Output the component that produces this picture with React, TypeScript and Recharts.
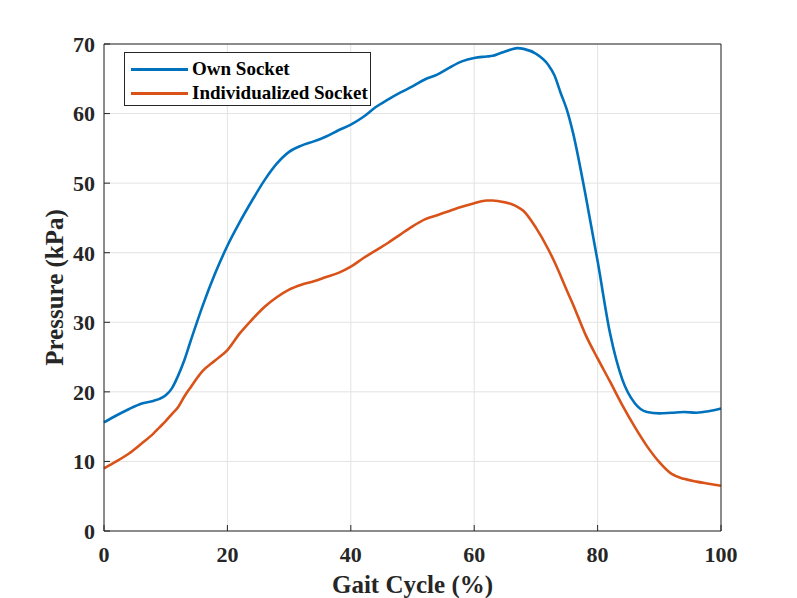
import React from 'react';
import { LineChart, Line, XAxis, YAxis, CartesianGrid, Legend } from 'recharts';

const gaitCycle = [0, 2, 4, 6, 8, 9, 10, 11, 12, 13, 14, 16, 18, 20, 22, 24, 26, 28, 30, 32, 34, 36, 38, 40, 42, 44, 46, 48, 50, 52, 54, 56, 58, 60, 62, 63, 64, 66, 67, 68, 70, 72, 73, 74, 75, 76, 78, 80, 82, 84, 86, 88, 90, 92, 94, 96, 98, 100];
const ownSocket = [15.6, 16.6, 17.5, 18.3, 18.7, 19.0, 19.5, 20.5, 22.3, 24.5, 27.2, 32.4, 37.0, 41.0, 44.4, 47.5, 50.4, 52.8, 54.5, 55.4, 56.0, 56.7, 57.6, 58.4, 59.5, 60.9, 62.0, 63.0, 63.9, 64.9, 65.6, 66.6, 67.5, 68.0, 68.2, 68.3, 68.6, 69.2, 69.4, 69.3, 68.6, 67.0, 65.5, 63.0, 60.6, 57.3, 48.5, 38.8, 28.5, 21.8, 18.4, 17.1, 16.9, 17.0, 17.1, 17.0, 17.2, 17.6];
const individualizedSocket = [9.0, 10.0, 11.1, 12.5, 14.0, 14.9, 15.8, 16.8, 17.8, 19.3, 20.6, 23.0, 24.5, 26.0, 28.4, 30.4, 32.2, 33.6, 34.7, 35.4, 35.9, 36.5, 37.1, 38.0, 39.2, 40.3, 41.4, 42.6, 43.8, 44.8, 45.4, 46.0, 46.6, 47.1, 47.5, 47.5, 47.4, 47.0, 46.6, 46.0, 43.6, 40.5, 38.7, 36.7, 34.6, 32.6, 28.3, 24.8, 21.5, 18.1, 15.0, 12.2, 9.9, 8.2, 7.5, 7.1, 6.8, 6.5];
const xTicks = [0, 20, 40, 60, 80, 100];
const yTicks = [0, 10, 20, 30, 40, 50, 60, 70];
const seriesNames = ['Own Socket', 'Individualized Socket'];

const data = gaitCycle.map((g, i) => ({ g, own: ownSocket[i], ind: individualizedSocket[i] }));

const FONT = '"Liberation Serif", "Times New Roman", serif';
const AXIS = '#262626';

const LegendBox = (props: any) => {
  const payload = [...(props.payload || [])].sort(
    (a: any, b: any) => seriesNames.indexOf(a.value) - seriesNames.indexOf(b.value)
  );
  return (
    <div style={{ width: 247, height: 54, boxSizing: 'border-box', border: `1px solid ${AXIS}`, background: '#fff', paddingTop: 4, fontFamily: FONT, fontWeight: 'bold', fontSize: 19, color: '#000' }}>
      {payload.map((p: any) => (
        <div key={p.value} style={{ display: 'flex', alignItems: 'center', height: 24 }}>
          <div style={{ marginLeft: 6, width: 57, height: 3, background: p.color }} />
          <span style={{ marginLeft: 4, whiteSpace: 'nowrap' }}>{p.value}</span>
        </div>
      ))}
    </div>
  );
};

export default function App() {
  return (
    <div style={{ position: 'absolute', left: 0, top: 0, width: 797, height: 598, background: '#fff' }}>
      <LineChart width={797} height={598} data={data} margin={{ top: 14, right: 46, bottom: 37, left: 54 }}>
        <CartesianGrid stroke="#e3e3e3" strokeWidth={1} />
        <XAxis
          dataKey="g"
          type="number"
          domain={[0, 100]}
          ticks={xTicks}
          height={30}
          stroke={AXIS}
          tickSize={-6}
          tickMargin={21}
          tick={{ fill: AXIS, fontFamily: FONT, fontWeight: 'bold', fontSize: 22 }}
          label={{
            content: (p: any) => {
              const vb = p.viewBox;
              return (
                <text x={vb.x + vb.width / 2} y={vb.y + 62} textAnchor="middle" fill={AXIS} fontFamily={FONT} fontWeight="bold" fontSize={25}>
                  Gait Cycle (%)
                </text>
              );
            },
          }}
        />
        <XAxis xAxisId="top" orientation="top" dataKey="g" type="number" domain={[0, 100]} ticks={xTicks} height={30} stroke={AXIS} tickSize={-6} tick={false} />
        <YAxis
          type="number"
          domain={[0, 70]}
          ticks={yTicks}
          width={50}
          stroke={AXIS}
          tickSize={-6}
          tickMargin={15}
          tick={{ fill: AXIS, fontFamily: FONT, fontWeight: 'bold', fontSize: 22 }}
          label={{
            content: (p: any) => {
              const vb = p.viewBox;
              const x = vb.x + 9;
              const y = vb.y + vb.height / 2;
              return (
                <text x={x} y={y} transform={`rotate(-90 ${x} ${y})`} textAnchor="middle" fill={AXIS} fontFamily={FONT} fontWeight="bold" fontSize={25}>
                  Pressure (kPa)
                </text>
              );
            },
          }}
        />
        <YAxis yAxisId="right" orientation="right" type="number" domain={[0, 70]} ticks={yTicks} width={30} stroke={AXIS} tickSize={-6} tick={false} />
        <Legend
          layout="vertical"
          align="center"
          verticalAlign="middle"
          content={<LegendBox />}
          wrapperStyle={{ position: 'absolute', left: 124, top: 52, width: 247, height: 54 }}
        />
        <Line type="monotone" dataKey="own" name={seriesNames[0]} stroke="#0072BD" strokeWidth={2.6} dot={false} isAnimationActive={false} />
        <Line type="monotone" dataKey="ind" name={seriesNames[1]} stroke="#D95319" strokeWidth={2.6} dot={false} isAnimationActive={false} />
      </LineChart>
    </div>
  );
}
